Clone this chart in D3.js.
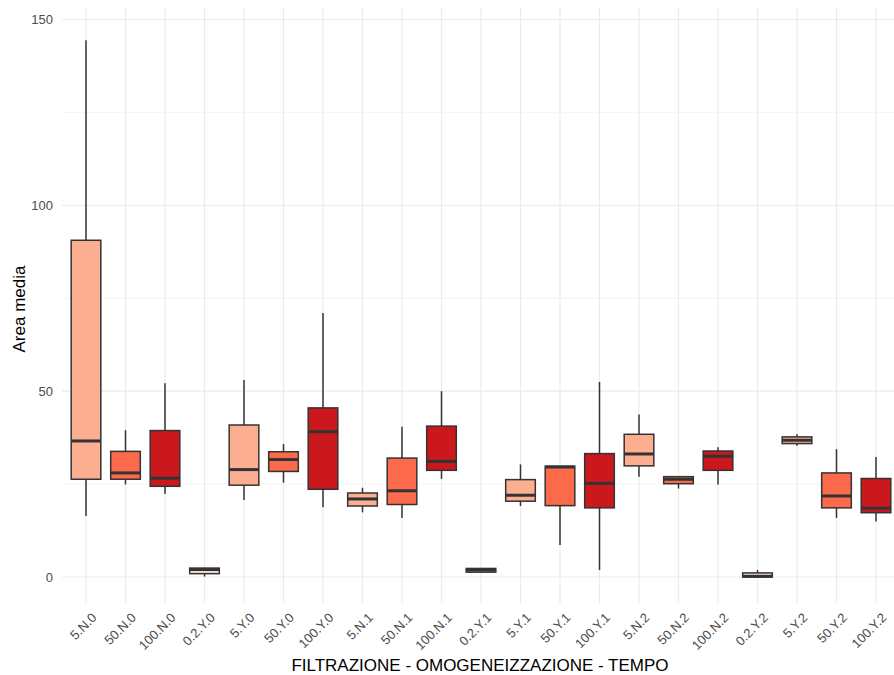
<!DOCTYPE html>
<html>
<head>
<meta charset="utf-8">
<script src="https://cdn.jsdelivr.net/npm/d3@7"></script>
<style>
  html, body { margin: 0; padding: 0; background: #fff; }
  svg { display: block; font-family: "Liberation Sans", Arial, Helvetica, sans-serif; }
</style>
</head>
<body>
<svg id="chart" width="894" height="675"></svg>
<script>
// Groups: filtration . homogenisation . time
const categories = ["5.N.0","50.N.0","100.N.0","0.2.Y.0","5.Y.0","50.Y.0","100.Y.0",
  "5.N.1","50.N.1","100.N.1","0.2.Y.1","5.Y.1","50.Y.1","100.Y.1",
  "5.N.2","50.N.2","100.N.2","0.2.Y.2","5.Y.2","50.Y.2","100.Y.2"];
const filtration = ["5","50","100","0.2","5","50","100",
  "5","50","100","0.2","5","50","100",
  "5","50","100","0.2","5","50","100"];

// Five-number summaries per group
const whiskerLow = [16.4, 24.9, 22.3, 0.1, 20.7, 25.4, 18.8, 17.4, 15.9, 26.4, 1.15, 19.1, 8.6, 1.9, 27.0, 23.8, 24.9, 0.0, 35.3, 15.9, 14.9];
const q1         = [26.3, 26.3, 24.4, 0.9, 24.7, 28.4, 23.6, 19.1, 19.5, 28.7, 1.3, 20.4, 19.2, 18.6, 29.9, 25.1, 28.7, 0.0, 35.9, 18.6, 17.3];
const median     = [36.6, 28.0, 26.6, 2.0, 28.9, 31.6, 39.1, 21.0, 23.2, 31.1, 1.85, 22.0, 29.6, 25.2, 33.1, 26.3, 32.5, 0.2, 36.8, 21.8, 18.5];
const q3         = [90.6, 33.8, 39.4, 2.4, 40.9, 33.7, 45.5, 22.6, 32.0, 40.6, 2.3, 26.2, 29.8, 33.2, 38.4, 27.0, 33.9, 1.1, 37.7, 28.0, 26.5];
const whiskerHigh= [144.4, 39.5, 52.1, 2.4, 53.0, 35.8, 71.0, 24.0, 40.4, 50.0, 2.4, 30.3, 29.8, 52.5, 43.7, 27.0, 34.9, 1.9, 38.4, 34.4, 32.3];

const yTicks = [0, 50, 100, 150];
const yMinor = [25, 75, 125];
const fillLevels = ["0.2", "5", "50", "100"];
const fillColors = ["#FEE5D9", "#FCAE91", "#FB6A4A", "#CB181D"];

const svg = d3.select("#chart");

// panel bounds
const step = 39.5;
const firstCenter = 86;
const panelLeft = firstCenter - 0.6 * step;
const panelRight = panelLeft + (categories.length - 1 + 1.2) * step;
const panelTop = 8, panelBottom = 603;

const x = d3.scalePoint().domain(categories).range([firstCenter, firstCenter + (categories.length - 1) * step]);
const y = d3.scaleLinear().domain([0, 150]).range([577, 19.5]);
const fill = d3.scaleOrdinal().domain(fillLevels).range(fillColors);

const panel = svg.append("g");

// grid
panel.selectAll("line.ymin").data(yMinor).join("line")
  .attr("x1", panelLeft).attr("x2", panelRight)
  .attr("y1", d => y(d)).attr("y2", d => y(d))
  .attr("stroke", "#f2f2f2").attr("stroke-width", 0.8);
panel.selectAll("line.ymaj").data(yTicks).join("line")
  .attr("x1", panelLeft).attr("x2", panelRight)
  .attr("y1", d => y(d)).attr("y2", d => y(d))
  .attr("stroke", "#ebebeb").attr("stroke-width", 1.2);
panel.selectAll("line.xmaj").data(categories).join("line")
  .attr("x1", d => x(d)).attr("x2", d => x(d))
  .attr("y1", panelTop).attr("y2", panelBottom)
  .attr("stroke", "#ebebeb").attr("stroke-width", 1.2);

// boxes
const boxW = step * 0.75;
const idx = d3.range(categories.length);
const g = panel.selectAll("g.box").data(idx).join("g").attr("class", "box");
const stroke = "#333333";

g.append("line")
  .attr("x1", i => x(categories[i])).attr("x2", i => x(categories[i]))
  .attr("y1", i => y(whiskerHigh[i])).attr("y2", i => y(q3[i]))
  .attr("stroke", stroke).attr("stroke-width", 1.5);
g.append("line")
  .attr("x1", i => x(categories[i])).attr("x2", i => x(categories[i]))
  .attr("y1", i => y(q1[i])).attr("y2", i => y(whiskerLow[i]))
  .attr("stroke", stroke).attr("stroke-width", 1.5);
g.append("rect")
  .attr("x", i => x(categories[i]) - boxW / 2)
  .attr("width", boxW)
  .attr("y", i => y(q3[i]))
  .attr("height", i => Math.max(0.01, y(q1[i]) - y(q3[i])))
  .attr("fill", i => fill(filtration[i]))
  .attr("stroke", stroke).attr("stroke-width", 1.5);
g.append("line")
  .attr("x1", i => x(categories[i]) - boxW / 2).attr("x2", i => x(categories[i]) + boxW / 2)
  .attr("y1", i => y(median[i])).attr("y2", i => y(median[i]))
  .attr("stroke", stroke).attr("stroke-width", 3);

// y axis labels
svg.append("g").selectAll("text").data(yTicks).join("text")
  .attr("x", 53).attr("y", d => y(d))
  .attr("dy", "0.35em")
  .attr("text-anchor", "end")
  .attr("font-size", 13)
  .attr("fill", "#4d4d4d")
  .text(d => d);

// x axis labels, rotated 45°
svg.append("g").selectAll("text").data(categories).join("text")
  .attr("transform", d => `translate(${x(d) + 5},${612}) rotate(-45)`)
  .attr("text-anchor", "end")
  .attr("dy", "0.7em")
  .attr("font-size", 13)
  .attr("fill", "#4d4d4d")
  .text(d => d);

// axis titles
svg.append("text")
  .attr("x", 480).attr("y", 671)
  .attr("text-anchor", "middle")
  .attr("font-size", 17)
  .attr("fill", "#000")
  .text("FILTRAZIONE - OMOGENEIZZAZIONE - TEMPO");
svg.append("text")
  .attr("transform", `translate(25,309) rotate(-90)`)
  .attr("text-anchor", "middle")
  .attr("font-size", 17)
  .attr("fill", "#000")
  .text("Area media");
</script>
</body>
</html>
